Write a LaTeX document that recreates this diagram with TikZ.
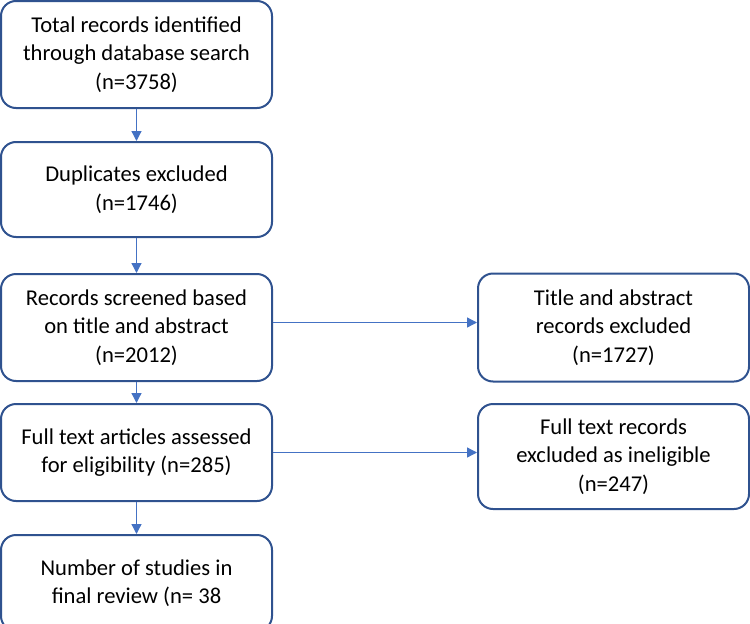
\documentclass[tikz,border=0pt]{standalone}
\usepackage{fontspec}
\setmainfont{Carlito}
\usepackage{xcolor}
\usetikzlibrary{positioning,arrows.meta}
\definecolor{prBlue}{HTML}{2F528F}
\definecolor{prBlueL}{HTML}{4472C4}
\definecolor{prWhite}{HTML}{FFFFFF}
\definecolor{prText}{HTML}{000000}
\tikzset{
  pr-box/.style={
    draw=prBlue, line width=2pt, rounded corners=15pt,
    fill=prWhite, font=\fontsize{22.6}{28.5}\selectfont, align=center,
    text=prText, inner sep=4pt, minimum width=271pt
  },
  pr-flow/.style={-{Triangle[length=10pt, width=10pt]}, line width=1.3pt,
    draw=prBlueL}
}
\begin{document}
\begin{tikzpicture}[x=1pt, y=-1pt, node distance=32pt and 204pt]
\useasboundingbox (0,0) rectangle (750,624);
% Main column
\node[pr-box, minimum height=107pt] (ident) at (136.5,54.5)
  {Total records identified\\ through database search\\ (n=3758)};
\node[pr-box, minimum height=95pt, below=32pt of ident] (dupl)
  {Duplicates excluded\\ (n=1746)};
\node[pr-box, minimum height=107pt, below=35pt of dupl] (screen)
  {Records screened based\\ on title and abstract\\ (n=2012)};
\node[pr-box, minimum height=97pt, below=21pt of screen] (full)
  {Full text articles assessed\\ for eligibility (n=285)};
\node[pr-box, minimum height=96pt, below=32pt of full] (final)
  {Number of studies in\\ final review (n= 38};

% Exclusions
\node[pr-box, minimum height=108pt, right=of screen] (exabs)
  {Title and abstract\\ records excluded\\ (n=1727)};
\node[pr-box, minimum height=105pt, right=of full, yshift=-4pt] (exfull)
  {Full text records\\ excluded as ineligible\\ (n=247)};

% Relations
\draw[pr-flow] (ident) -- (dupl);
\draw[pr-flow] (dupl) -- (screen);
\draw[pr-flow] (screen) -- (full);
\draw[pr-flow] (full) -- (final);
\coordinate (absout) at ([yshift=5pt]screen.east);
\draw[pr-flow] (absout) -- (absout -| exabs.west);
\draw[pr-flow] (full.east) -- (full.east -| exfull.west);
\end{tikzpicture}
\end{document}
